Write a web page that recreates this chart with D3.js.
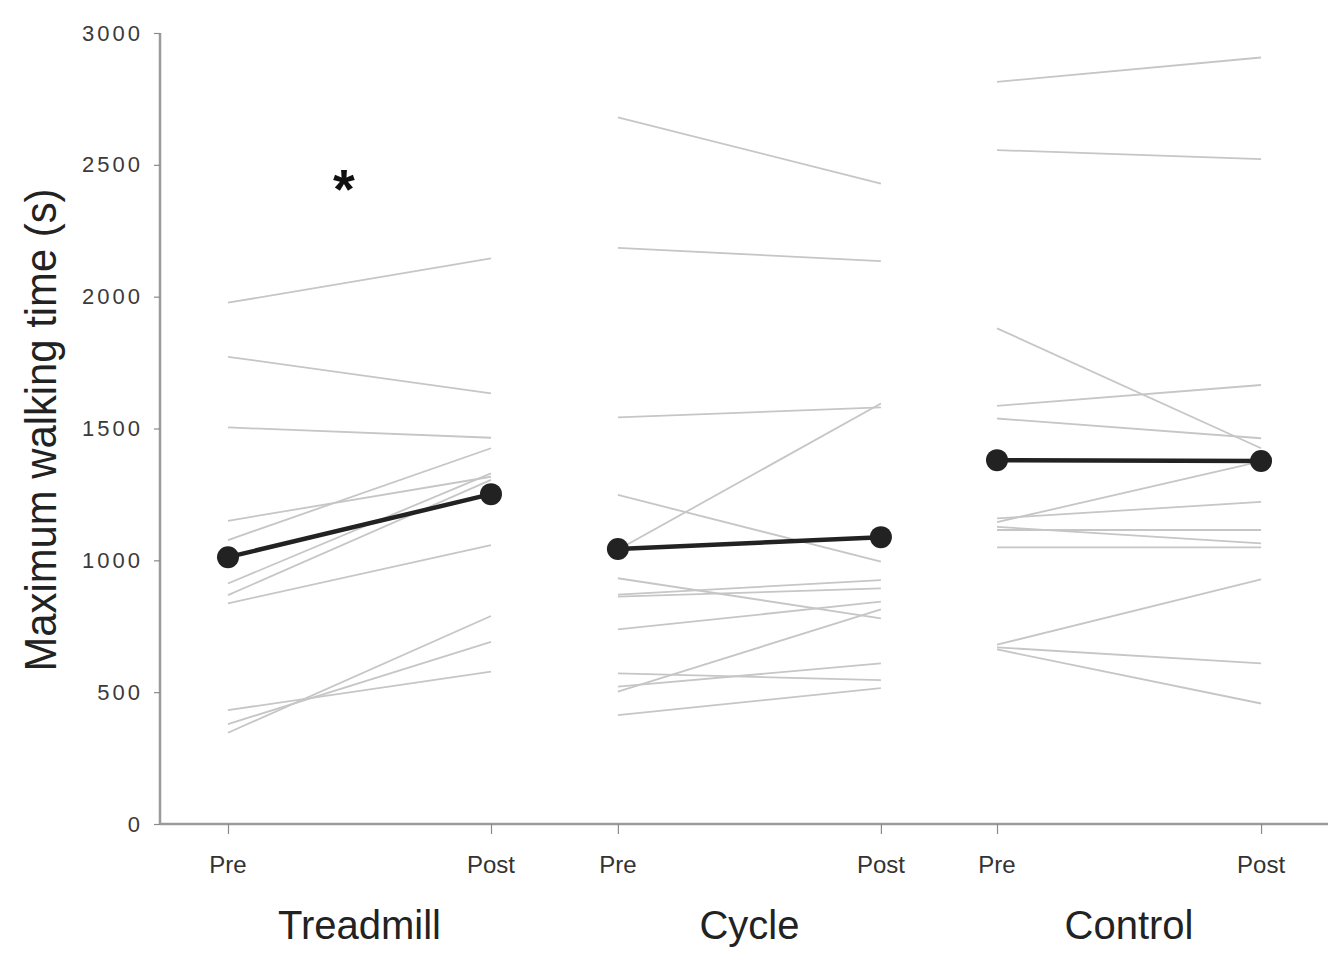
<!DOCTYPE html>
<html>
<head>
<meta charset="utf-8">
<title>Maximum walking time</title>
<script src="https://cdn.jsdelivr.net/npm/d3@7/dist/d3.min.js"></script>
<style>
  html, body { margin: 0; padding: 0; background: #fff; }
  svg { display: block; }
  .narrow { font-family: "Liberation Sans Narrow", "Arial Narrow", "Liberation Sans", Arial, sans-serif; }
</style>
</head>
<body>
<svg id="chart" width="1332" height="961"></svg>
<script>
// groups and their pre/post x positions (data units)
const groups = ["Treadmill", "Cycle", "Control"];
const prePos = [1, 3.965, 6.848];
const postPos = [3, 5.965, 8.856];
const yTicks = [0, 500, 1000, 1500, 2000, 2500, 3000];

// individual subjects
const treadmillPre  = [1977, 1772, 1504, 1150, 1077, 912, 868, 837, 432, 379, 346];
const treadmillPost = [2145, 1633, 1465, 1317, 1425, 1330, 1305, 1058, 578, 691, 789];
const cyclePre  = [2680, 2185, 1542, 1040, 1248, 932, 870, 862, 738, 571, 521, 502, 413];
const cyclePost = [2429, 2135, 1580, 1595, 995, 780, 925, 894, 843, 546, 609, 814, 515];
const controlPre  = [2815, 2556, 1880, 1586, 1538, 1159, 1145, 1127, 1115, 1049, 680, 670, 662];
const controlPost = [2907, 2522, 1425, 1665, 1463, 1222, 1375, 1064, 1115, 1049, 928, 609, 457];

// group means
const meanPre  = [1012, 1043, 1380];
const meanPost = [1251, 1088, 1377];

const svg = d3.select("#chart");
const x = d3.scaleLinear().domain([0.483, 9.365]).range([160, 1328]);
const y = d3.scaleLinear().domain([0, 3000]).range([824, 33]);

const allPre = [treadmillPre, cyclePre, controlPre];
const allPost = [treadmillPost, cyclePost, controlPost];

// subject lines
const subj = [];
allPre.forEach((arr, g) => arr.forEach((v, i) => subj.push({ g, pre: v, post: allPost[g][i] })));
svg.append("g").selectAll("line").data(subj).join("line")
  .attr("x1", d => x(prePos[d.g])).attr("x2", d => x(postPos[d.g]))
  .attr("y1", d => y(d.pre)).attr("y2", d => y(d.post))
  .attr("stroke", "#c6c6c6").attr("stroke-width", 1.8);

// axes
const yAxis = svg.append("g").attr("transform", "translate(160,0)")
  .call(d3.axisLeft(y).tickValues(yTicks).tickSize(6).tickPadding(11).tickFormat(d3.format("d")));
const xAxis = svg.append("g").attr("transform", "translate(0,824)")
  .call(d3.axisBottom(x).tickValues(prePos.concat(postPos)).tickSize(10).tickPadding(0).tickFormat(""));
[yAxis, xAxis].forEach(a => {
  a.select(".domain").attr("stroke", "#9a9a9a").attr("stroke-width", 2.5);
  a.selectAll(".tick line").attr("stroke", "#8a8a8a").attr("stroke-width", 1.2);
});
yAxis.select(".domain").attr("d", "M0,33V824");
xAxis.select(".domain").attr("d", "M160,0H1328");
yAxis.selectAll(".tick text")
  .attr("font-family", "'Liberation Sans', Arial, sans-serif")
  .attr("font-size", 22).attr("letter-spacing", 3).attr("fill", "#3a3a3a");

// pre / post labels
const xl = svg.append("g").attr("class", "narrow");
groups.forEach((g, i) => {
  xl.append("text").attr("x", x(prePos[i])).attr("y", 873).attr("text-anchor", "middle")
    .attr("font-size", 24).attr("fill", "#333").text("Pre");
  xl.append("text").attr("x", x(postPos[i])).attr("y", 873).attr("text-anchor", "middle")
    .attr("font-size", 24).attr("fill", "#333").text("Post");
  xl.append("text").attr("x", (x(prePos[i]) + x(postPos[i])) / 2).attr("y", 939)
    .attr("text-anchor", "middle").attr("font-size", 40).attr("fill", "#222").text(g);
});

// mean lines and dots
const means = groups.map((g, i) => ({ i, pre: meanPre[i], post: meanPost[i] }));
svg.append("g").selectAll("line").data(means).join("line")
  .attr("x1", d => x(prePos[d.i])).attr("x2", d => x(postPos[d.i]))
  .attr("y1", d => y(d.pre)).attr("y2", d => y(d.post))
  .attr("stroke", "#222").attr("stroke-width", 4.5);
const dots = [];
means.forEach(d => { dots.push({ x: prePos[d.i], v: d.pre }); dots.push({ x: postPos[d.i], v: d.post }); });
svg.append("g").selectAll("circle").data(dots).join("circle")
  .attr("cx", d => x(d.x)).attr("cy", d => y(d.v)).attr("r", 11).attr("fill", "#222");

// y title
svg.append("text").attr("class", "narrow")
  .attr("transform", "translate(56,430) rotate(-90) scale(0.95,1)")
  .attr("text-anchor", "middle").attr("font-size", 44).attr("fill", "#222")
  .text("Maximum walking time (s)");

// significance marker
svg.append("text").attr("x", 344).attr("y", 208).attr("text-anchor", "middle")
  .attr("font-family", "'Liberation Sans', Arial, sans-serif").attr("font-weight", "bold")
  .attr("font-size", 56).attr("fill", "#111").text("*");
</script>
</body>
</html>
